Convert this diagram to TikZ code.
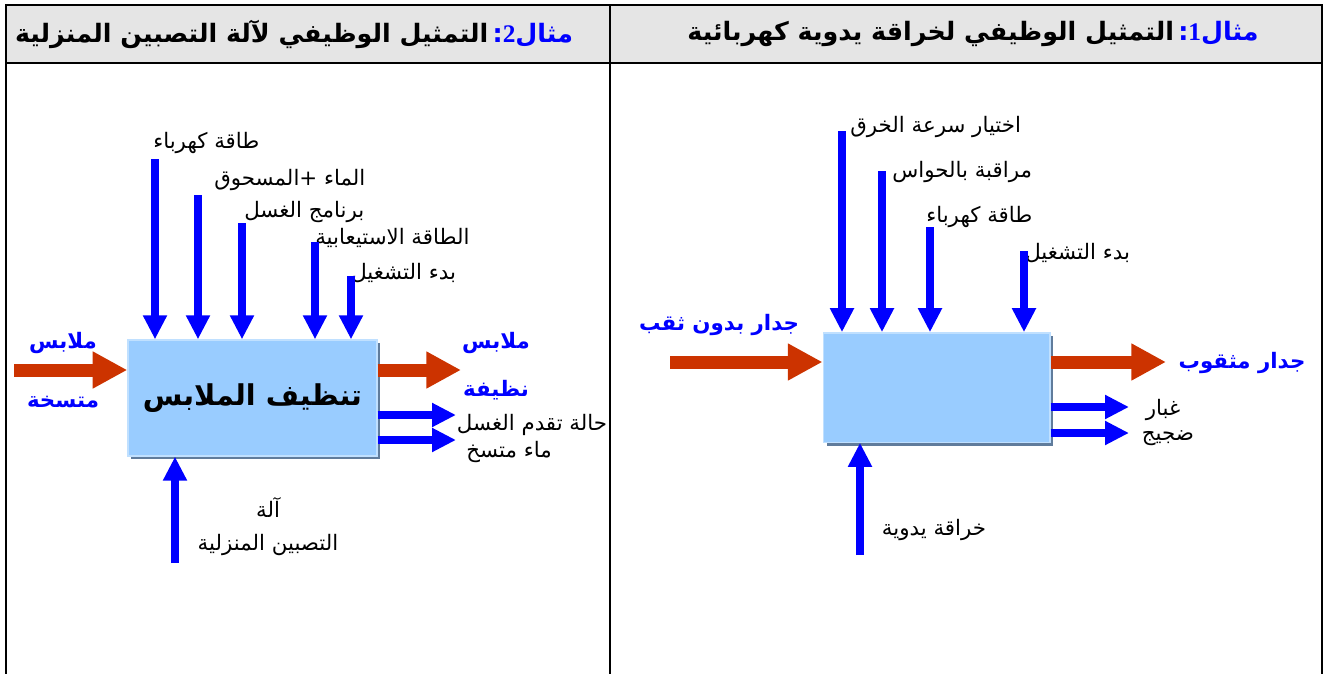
\documentclass[tikz,border=0pt]{standalone}
\usepackage{fontspec}
\newfontfamily\arabicfont[Script=Arabic]{DejaVu Sans}
\newfontfamily\numfont{Liberation Serif}
\TeXXeTstate=1
\usetikzlibrary{arrows.meta, positioning, shadows}
\definecolor{boxblue}{RGB}{153,204,255}
\definecolor{boxedge}{RGB}{192,224,255}
\definecolor{boxshade}{RGB}{96,124,156}
\definecolor{flowred}{RGB}{204,51,0}
\definecolor{headgray}{RGB}{229,229,229}
\newcommand{\artext}[1]{\beginR #1\endR}
\tikzstyle{func}=[draw=boxedge, line width=1pt, fill=boxblue, inner sep=0pt,
  drop shadow={shadow xshift=2.5pt, shadow yshift=-2.5pt, fill=boxshade, opacity=1}]
\tikzstyle{flow}=[draw=flowred, line width=9.75pt, -{Triangle[length=26pt, width=26pt]}]
\tikzstyle{ctrl}=[draw=blue, line width=6pt, -{Triangle[length=18pt, width=17pt]}]
\tikzstyle{lbl}=[inner sep=0pt, font=\arabicfont\fontsize{16}{18}\selectfont]
\tikzstyle{blbl}=[inner sep=0pt, text=blue, font=\arabicfont\bfseries\fontsize{16}{18}\selectfont]
\tikzstyle{title}=[inner sep=0pt, font=\arabicfont\bfseries\fontsize{19}{21}\selectfont]

\begin{document}
\begin{tikzpicture}[x=0.75pt, y=-0.75pt]
  \useasboundingbox (0,0) rectangle (1324,674);
  % header and frame
  \path[fill=headgray] (6,5) rectangle (1322,63);
  \draw[line width=2pt] (6,674) -- (6,5) -- (1322,5) -- (1322,674);
  \draw[line width=2pt] (6,63) -- (1322,63);
  \draw[line width=2pt] (610,5) -- (610,674);
  \node[title] (h2) at (294,34) {\artext{التمثيل الوظيفي لآلة التصبين المنزلية}\,{\color{blue}:{\numfont 2}\artext{مثال}}};
  \node[title] (h1) at (973,34) {\artext{التمثيل الوظيفي لخراقة يدوية كهربائية}\,{\color{blue}:{\numfont 1}\artext{مثال}}};

  % example 2: washing machine
  \node[func, minimum width=186.75pt, minimum height=87pt,
    font=\arabicfont\bfseries\fontsize{21.5}{24}\selectfont] (f2) at (252.5,398) {\artext{تنظيف الملابس}};
  \coordinate (a1) at (155,159);
  \coordinate (a2) at (198,195);
  \coordinate (a3) at (242,223);
  \coordinate (a4) at (315,242);
  \coordinate (a5) at (351,276);
  \node[lbl, anchor=west] (c1) at (153,143) {\artext{طاقة كهرباء}};
  \node[lbl, anchor=west] (c2) at (214,180) {\artext{الماء +المسحوق}};
  \node[lbl, anchor=west] (c3) at (244,212) {\artext{برنامج الغسل}};
  \node[lbl, anchor=west] (c4) at (315,238) {\artext{الطاقة الاستيعابية}};
  \node[lbl, anchor=west] (c5) at (351,273) {\artext{بدء التشغيل}};
  \foreach \i in {1,...,5}
    \draw[ctrl] (a\i) -- (a\i |- f2.north);
  \coordinate (in2) at (14,370);
  \coordinate (out2) at (461,370);
  \draw[flow] (in2) -- (in2 -| f2.west);
  \draw[flow] (out2 -| f2.east) -- (out2);
  \node[blbl] (i2a) at (63,343) {\artext{ملابس}};
  \node[blbl] (i2b) at (63,402) {\artext{متسخة}};
  \node[blbl] (o2a) at (496,343) {\artext{ملابس}};
  \node[blbl] (o2b) at (496,390) {\artext{نظيفة}};
  \coordinate (s1) at (456,415);
  \coordinate (s2) at (456,440);
  \draw[ctrl] (s1 -| f2.east) -- (s1);
  \draw[ctrl] (s2 -| f2.east) -- (s2);
  \node[lbl] (r1) at (532,425) {\artext{حالة تقدم الغسل}};
  \node[lbl] (r2) at (509,452) {\artext{ماء متسخ}};
  \coordinate (m2) at (175,563);
  \draw[ctrl] (m2) -- (m2 |- f2.south);
  \node[lbl] (k2a) at (268,507) {\artext{آلة}};
  \node[lbl] (k2b) at (268,545) {\artext{التصبين المنزلية}};

  % example 1: electric hand drill
  \node[func, minimum width=170pt, minimum height=82pt] (f1) at (936.5,387.5) {};
  \coordinate (b1) at (842,131);
  \coordinate (b2) at (882,171);
  \coordinate (b3) at (930,227);
  \coordinate (b4) at (1024,251);
  \node[lbl, anchor=west] (d1) at (850,127) {\artext{اختيار سرعة الخرق}};
  \node[lbl, anchor=west] (d2) at (892,172) {\artext{مراقبة بالحواس}};
  \node[lbl, anchor=west] (d3) at (926,217) {\artext{طاقة كهرباء}};
  \node[lbl, anchor=west] (d4) at (1025,253) {\artext{بدء التشغيل}};
  \foreach \i in {1,...,4}
    \draw[ctrl] (b\i) -- (b\i |- f1.north);
  \coordinate (in1) at (670,362);
  \coordinate (out1) at (1166,362);
  \draw[flow] (in1) -- (in1 -| f1.west);
  \draw[flow] (out1 -| f1.east) -- (out1);
  \node[blbl] (i1) at (719,325) {\artext{جدار بدون ثقب}};
  \node[blbl] (o1) at (1242,363) {\artext{جدار مثقوب}};
  \coordinate (t1) at (1129,407);
  \coordinate (t2) at (1129,433);
  \draw[ctrl] (t1 -| f1.east) -- (t1);
  \draw[ctrl] (t2 -| f1.east) -- (t2);
  \node[lbl] (g1) at (1163,410) {\artext{غبار}};
  \node[lbl] (g2) at (1168,438) {\artext{ضجيج}};
  \coordinate (m1) at (860,555);
  \draw[ctrl] (m1) -- (m1 |- f1.south);
  \node[lbl] (k1) at (934,530) {\artext{خراقة يدوية}};
\end{tikzpicture}
\end{document}
